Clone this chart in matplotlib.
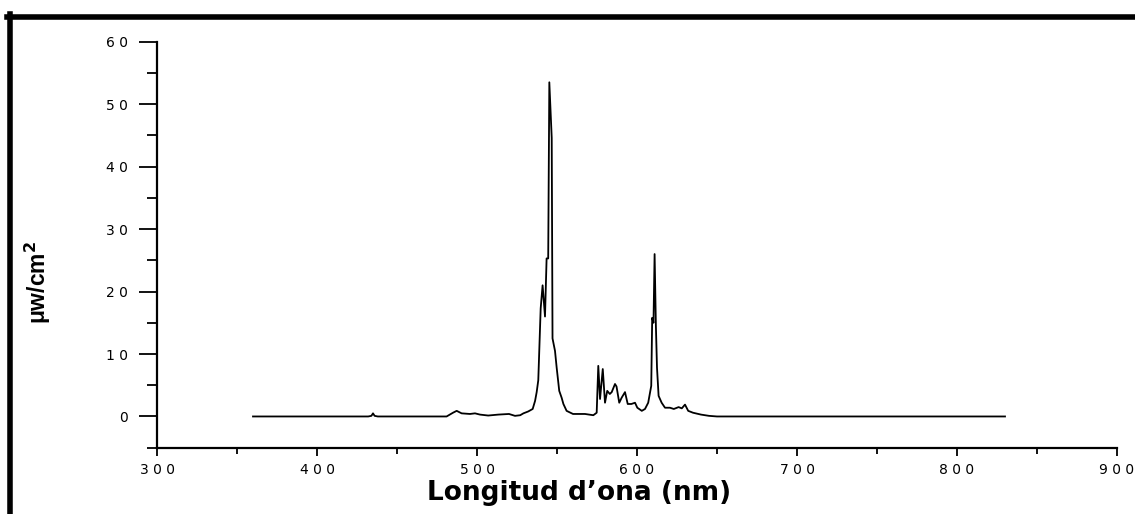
import matplotlib
matplotlib.use("Agg")
import matplotlib.pyplot as plt
from matplotlib.lines import Line2D
from matplotlib.ticker import MultipleLocator, FuncFormatter

# Espectre (nm, µW/cm²) llegit de la figura
longitud = [360, 432, 434, 435, 436, 438, 481, 485, 487.3, 490.4, 495.6, 498.75,
            501.9, 507, 513.3, 520, 523.75, 527, 529, 532, 534.8, 536.3, 537.3,
            538.3, 539.8, 541, 542.5, 543.5, 544.5, 545.2, 546.7, 547.2, 548.75,
            549.8, 551.4, 552.9, 554, 556, 560, 567.5, 572.7, 574.8, 575.8, 576.9,
            578.6, 580, 581.4, 583, 584.2, 586.25, 587.2, 588.9, 590.4, 592.5,
            594.2, 596.5, 598.75, 600.2, 603, 605, 607, 608.9, 609.5, 610.3, 611,
            611.8, 612.5, 613.5, 615.4, 617.5, 620.6, 623, 626, 628, 630, 632,
            635, 640, 645, 650, 830]
intensitat = [0, 0, 0.1, 0.5, 0.1, 0, 0, 0.6, 0.9, 0.5, 0.4, 0.5,
              0.3, 0.15, 0.3, 0.4, 0.1, 0.2, 0.5, 0.8, 1.2, 2.5, 3.9,
              5.8, 17.3, 21, 16, 25.3, 25.3, 53.5, 44.6, 12.5, 10.5,
              7.8, 4.1, 3.0, 2.0, 0.9, 0.4, 0.4, 0.2, 0.6, 8.1, 2.8,
              7.6, 2.2, 4.1, 3.6, 3.9, 5.2, 4.8, 2.2, 3.0, 3.9,
              2.0, 2.0, 2.2, 1.4, 0.9, 1.2, 2.2, 4.9, 15.8, 15.0, 26,
              14.6, 7.8, 3.3, 2.2, 1.4, 1.4, 1.2, 1.5, 1.3, 1.9, 0.9,
              0.6, 0.3, 0.1, 0, 0]

x_lim = (300, 900)
y_lim = (-5, 60)


def _espaiat(v, _pos=None):
    # etiquetes amb els dígits separats, com a l'original
    return " ".join(str(int(round(v))))


fig = plt.figure(figsize=(11.35, 5.14), dpi=100)
ax = fig.add_axes([157 / 1135, 1 - 447.7 / 514, 960 / 1135, 406 / 514])

ax.plot(longitud, intensitat, color="black", linewidth=1.3)

ax.set_xlim(*x_lim)
ax.set_ylim(*y_lim)

for lado in ("top", "right"):
    ax.spines[lado].set_visible(False)
for lado in ("left", "bottom"):
    ax.spines[lado].set_linewidth(1.6)

ax.xaxis.set_major_locator(MultipleLocator(100))
ax.xaxis.set_minor_locator(MultipleLocator(50))
ax.yaxis.set_major_locator(MultipleLocator(10))
ax.yaxis.set_minor_locator(MultipleLocator(5))
ax.xaxis.set_major_formatter(FuncFormatter(_espaiat))
ax.yaxis.set_major_formatter(FuncFormatter(_espaiat))

ax.tick_params(axis="x", which="major", direction="out", length=6, width=1.3,
               pad=5, labelsize=10)
ax.tick_params(axis="x", which="minor", direction="out", length=4, width=1.3)
ax.tick_params(axis="y", which="major", direction="out", length=13, width=1.3,
               pad=8, labelsize=10)
ax.tick_params(axis="y", which="minor", direction="out", length=7, width=1.3)

fig.text(579 / 1135, 1 - 493 / 514, "Longitud d\u2019ona (nm)",
         ha="center", va="center", fontsize=19, fontweight="bold",
         family="DejaVu Sans")
fig.text(38 / 1135, 1 - 282 / 514, "\u03bcw/cm$^\\mathbf{2}$",
         ha="center", va="center", rotation=90, fontsize=16.5,
         fontweight="bold", family="Liberation Sans")

# marc exterior (només vora superior i esquerra)
fig.add_artist(Line2D([9.5 / 1135, 9.5 / 1135], [0, 1 - 14 / 514],
                      transform=fig.transFigure, color="black", linewidth=4))
fig.add_artist(Line2D([7 / 1135, 1], [1 - 16.5 / 514, 1 - 16.5 / 514],
                      transform=fig.transFigure, color="black", linewidth=4))

fig.savefig("out.png", dpi=100)
